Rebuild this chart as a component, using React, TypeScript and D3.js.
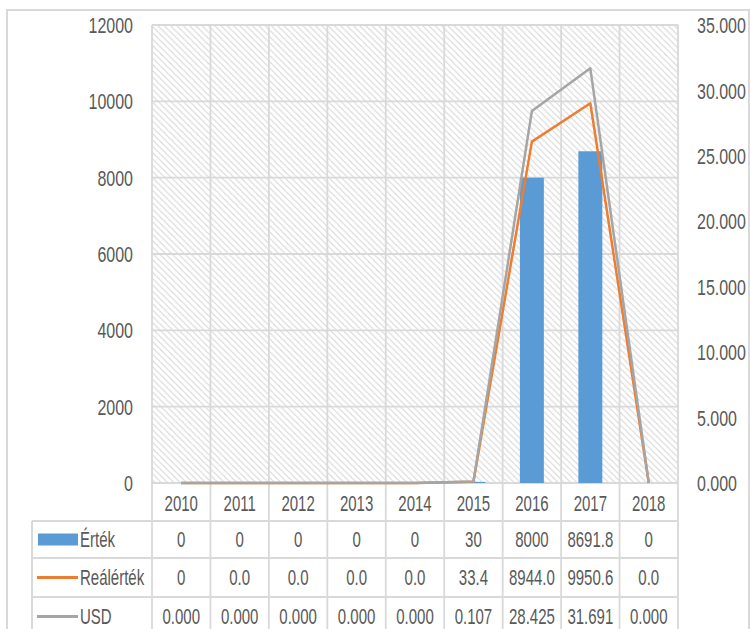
import React from 'react';
import * as d3 from 'd3';

const years = ['2010', '2011', '2012', '2013', '2014', '2015', '2016', '2017', '2018'];
const ertek = [0, 0, 0, 0, 0, 30, 8000, 8691.8, 0];
const realertek = [0, 0, 0, 0, 0, 33.4, 8944.0, 9950.6, 0];
const usd = [0, 0, 0, 0, 0, 0.107, 28.425, 31.691, 0];

const ertekLabels = ['0', '0', '0', '0', '0', '30', '8000', '8691.8', '0'];
const realLabels = ['0', '0.0', '0.0', '0.0', '0.0', '33.4', '8944.0', '9950.6', '0.0'];
const usdLabels = ['0.000', '0.000', '0.000', '0.000', '0.000', '0.107', '28.425', '31.691', '0.000'];

const leftTicks = [0, 2000, 4000, 6000, 8000, 10000, 12000];
const rightTicks = [0, 5, 10, 15, 20, 25, 30, 35];

const width = 750;
const height = 629;
const plot = { left: 152, right: 678, top: 25, bottom: 483 };
const rows = [483, 521, 558, 597, 636];
const legendLeft = 32;

const textColor = '#595959';
const gridColor = '#d9d9d9';
const font = '"Liberation Sans", Arial, sans-serif';

// stretched text, the reference is taller than wide
const T: React.FC<{ x: number; y: number; anchor?: string; size?: number; children: React.ReactNode }> = ({
  x, y, anchor = 'middle', size = 15, children,
}) => (
  <g transform={`translate(${x},${y}) scale(1,1.42)`}>
    <text textAnchor={anchor} dominantBaseline="central" fontSize={size} fill={textColor} fontFamily={font}>
      {children}
    </text>
  </g>
);

const App: React.FC = () => {
  const x = d3.scaleBand<string>().domain(years).range([plot.left, plot.right]);
  const yLeft = d3.scaleLinear().domain([0, 12000]).range([plot.bottom, plot.top]);
  const yRight = d3.scaleLinear().domain([0, 35]).range([plot.bottom, plot.top]);
  const cx = (d: string) => x(d)! + x.bandwidth() / 2;
  const barW = x.bandwidth() * 0.41;

  const realLine = d3.line<number>().x((_, i) => cx(years[i])).y((d) => yLeft(d));
  const usdLine = d3.line<number>().x((_, i) => cx(years[i])).y((d) => yRight(d));

  const bounds = [...years.map((d) => x(d)!), plot.right];
  const rowData = [
    { name: 'Érték', labels: ertekLabels, kind: 'bar', color: '#5b9bd5' },
    { name: 'Reálérték', labels: realLabels, kind: 'line', color: '#ed7d31' },
    { name: 'USD', labels: usdLabels, kind: 'line', color: '#a5a5a5' },
  ];

  return (
    <svg width={width} height={height} style={{ position: 'absolute', left: 0, top: 0, background: '#fff' }}>
      <defs>
        <pattern id="hatch" patternUnits="userSpaceOnUse" width={6.3} height={6.3}>
          <rect width={6.3} height={6.3} fill="#fff" />
          <path d="M0,0 L6.3,6.3 M-1,5.3 L1,7.3 M5.3,-1 L7.3,1" stroke="#d6d6d6" strokeWidth={1.1} />
        </pattern>
      </defs>

      {/* outer frame */}
      <path d={`M7,${height} V10 H749 V${height}`} fill="none" stroke={gridColor} strokeWidth={2} />

      {/* plot background + grid */}
      <rect x={plot.left} y={plot.top} width={plot.right - plot.left} height={plot.bottom - plot.top} fill="url(#hatch)" />
      {leftTicks.map((t) => (
        <line key={t} x1={plot.left} x2={plot.right} y1={yLeft(t)} y2={yLeft(t)} stroke={gridColor} strokeWidth={1.8} />
      ))}
      {bounds.map((b, i) => (
        <line key={i} x1={b} x2={b} y1={plot.top} y2={height} stroke={gridColor} strokeWidth={1.8} />
      ))}

      {/* data table grid */}
      {rows.slice(1).map((r) => (
        <line key={r} x1={legendLeft} x2={plot.right} y1={r} y2={r} stroke={gridColor} strokeWidth={2} />
      ))}
      <line x1={legendLeft} x2={legendLeft} y1={rows[1]} y2={height} stroke={gridColor} strokeWidth={2} />

      {/* axis labels */}
      {leftTicks.map((t) => (
        <T key={t} x={133} y={yLeft(t)} anchor="end" size={16}>{t}</T>
      ))}
      {rightTicks.map((t) => (
        <T key={t} x={697} y={yRight(t)} anchor="start" size={16}>{d3.format('.3f')(t)}</T>
      ))}

      {/* bars */}
      {ertek.map((v, i) => (
        <rect key={i} x={cx(years[i]) - barW / 2} y={yLeft(v)} width={barW} height={plot.bottom - yLeft(v)} fill="#5b9bd5" />
      ))}

      {/* lines */}
      <path d={realLine(realertek)!} fill="none" stroke="#ed7d31" strokeWidth={2.5} strokeLinejoin="round" />
      <path d={usdLine(usd)!} fill="none" stroke="#a5a5a5" strokeWidth={2.5} strokeLinejoin="round" />

      {/* table text */}
      {years.map((d) => (
        <T key={d} x={cx(d)} y={(rows[0] + rows[1]) / 2 + 1}>{d}</T>
      ))}
      {rowData.map((r, ri) => {
        const yc = (rows[ri + 1] + rows[ri + 2]) / 2;
        return (
          <g key={r.name}>
            {r.kind === 'bar' ? (
              <rect x={38} y={yc - 6} width={40} height={12} fill={r.color} />
            ) : (
              <line x1={37} x2={78} y1={yc} y2={yc} stroke={r.color} strokeWidth={3} />
            )}
            <T x={80} y={yc} anchor="start">{r.name}</T>
            {r.labels.map((l, i) => (
              <T key={i} x={cx(years[i])} y={yc}>{l}</T>
            ))}
          </g>
        );
      })}
    </svg>
  );
};

export default App;
